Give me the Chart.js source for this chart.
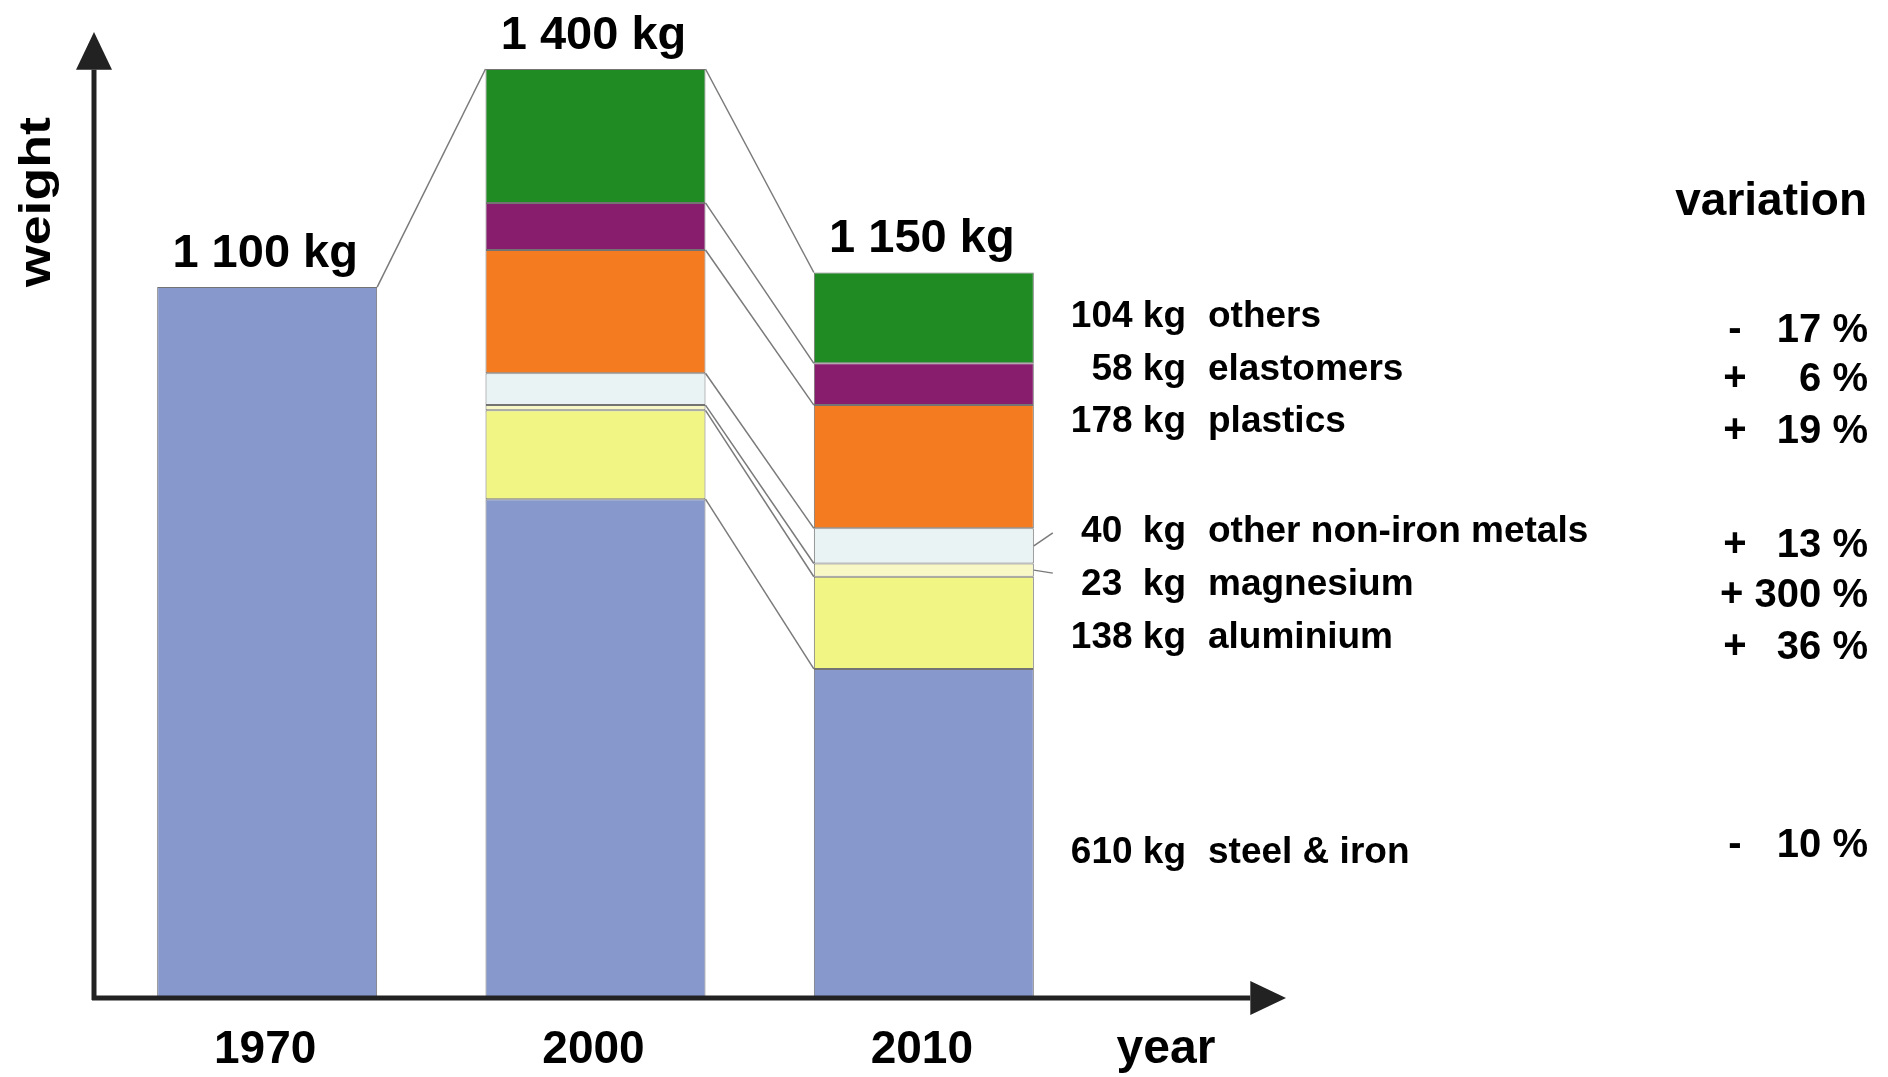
<!DOCTYPE html>
<html>
<head>
<meta charset="utf-8">
<script src="https://cdn.jsdelivr.net/npm/chart.js@4.4.1/dist/chart.umd.min.js"></script>
<style>
  html, body { margin: 0; padding: 0; background: #fff; }
  #wrap { width: 1888px; height: 1077px; }
</style>
</head>
<body>
<div id="wrap"><canvas id="myChart" width="1888" height="1077"></canvas></div>
<script>
// data (bar heights in kg, 2000 bar = 1400 kg)
const years = ['1970', '2000', '2010'];
const totalLabels = ['1 100 kg', '1 400 kg', '1 150 kg'];

const total1970 = [1071, null, null];
const steel = [null, 751, 495];
const aluminium = [null, 134, 139];
const magnesium = [null, 8, 20];
const nonIron = [null, 48, 53];
const plastics = [null, 186, 186];
const elastomers = [null, 71, 63];
const others = [null, 202, 137];

// right hand side texts, top to bottom
const materialNames = ['others', 'elastomers', 'plastics', 'other non-iron metals', 'magnesium', 'aluminium', 'steel & iron'];
const amounts2010 = ['104 kg', '58 kg', '178 kg', '40  kg', '23  kg', '138 kg', '610 kg'];
const variationSigns = ['-', '+', '+', '+', '+', '+', '-'];
const variationValues = ['17 %', '6 %', '19 %', '13 %', '300 %', '36 %', '10 %'];

const FONT = '"Liberation Sans", Arial, Helvetica, sans-serif';
const BLUE = '#8798cc';
const EDGE = 'rgba(90,90,90,0.85)';

function ds(label, data, color) {
    return {
        label: label,
        data: data,
        backgroundColor: color,
        borderColor: EDGE,
        borderWidth: 1,
        borderSkipped: false,
        stack: 'w'
    };
}

const datasets = [
    ds('1970', total1970, BLUE),
    ds('steel & iron', steel, BLUE),
    ds('aluminium', aluminium, '#f1f584'),
    ds('magnesium', magnesium, '#f7f8c6'),
    ds('other non-iron metals', nonIron, '#e9f3f3'),
    ds('plastics', plastics, '#f47b20'),
    ds('elastomers', elastomers, '#871d6c'),
    ds('others', others, '#208b23')
];

function arrowLine(ctx, x1, y1, x2, y2, head) {
    const ang = Math.atan2(y2 - y1, x2 - x1);
    const bx = x2 - Math.cos(ang) * head * 1.05;
    const by = y2 - Math.sin(ang) * head * 1.05;
    ctx.beginPath();
    ctx.moveTo(x1, y1);
    ctx.lineTo(bx, by);
    ctx.stroke();
    ctx.beginPath();
    ctx.moveTo(x2, y2);
    ctx.lineTo(bx + Math.sin(ang) * head / 2, by - Math.cos(ang) * head / 2);
    ctx.lineTo(bx - Math.sin(ang) * head / 2, by + Math.cos(ang) * head / 2);
    ctx.closePath();
    ctx.fill();
}

const overlay = {
    id: 'overlay',
    afterDatasetsDraw(chart) {
        const ctx = chart.ctx;
        const area = chart.chartArea;
        const yScale = chart.scales.y;
        const xScale = chart.scales.x;
        ctx.save();

        // connector lines between the bars
        ctx.strokeStyle = '#7a7a7a';
        ctx.lineWidth = 1.5;
        const first = chart.getDatasetMeta(0).data[0];
        const topMeta = chart.getDatasetMeta(datasets.length - 1).data[1];
        ctx.beginPath();
        ctx.moveTo(first.x + first.width / 2, first.y);
        ctx.lineTo(topMeta.x - topMeta.width / 2, topMeta.y);
        ctx.stroke();
        for (let i = 1; i < datasets.length; i++) {
            const a = chart.getDatasetMeta(i).data[1];
            const b = chart.getDatasetMeta(i).data[2];
            ctx.beginPath();
            ctx.moveTo(a.x + a.width / 2, a.y);
            ctx.lineTo(b.x - b.width / 2, b.y);
            ctx.stroke();
        }

        // little pointers for the two thin layers
        const ni = chart.getDatasetMeta(4).data[2];
        const mg = chart.getDatasetMeta(3).data[2];
        [[ni, -13], [mg, 3]].forEach(p => {
            const bar = p[0];
            const mid = (bar.y + bar.base) / 2;
            ctx.beginPath();
            ctx.moveTo(bar.x + bar.width / 2, mid);
            ctx.lineTo(bar.x + bar.width / 2 + 19, mid + p[1]);
            ctx.stroke();
        });

        // axes with arrows
        ctx.strokeStyle = '#222';
        ctx.fillStyle = '#222';
        ctx.lineWidth = 5;
        const ox = area.left - 9;
        const oy = area.bottom + 1;
        arrowLine(ctx, ox, oy + 2, ox, 32, 36);
        arrowLine(ctx, ox - 2, oy, 1286, oy, 34);

        // totals above the bars
        ctx.fillStyle = '#000';
        ctx.textAlign = 'center';
        ctx.textBaseline = 'alphabetic';
        ctx.font = 'bold 47px ' + FONT;
        years.forEach((y, j) => {
            let sum = 0;
            datasets.forEach(d => { sum += d.data[j] || 0; });
            const px = xScale.getPixelForValue(j);
            const py = yScale.getPixelForValue(sum);
            ctx.fillText(totalLabels[j], px - 2, py - 20);
        });

        // year labels
        ctx.font = 'bold 46px ' + FONT;
        years.forEach((y, j) => {
            ctx.fillText(y, xScale.getPixelForValue(j) - 2, 1063);
        });
        ctx.font = 'bold 48px ' + FONT;
        ctx.fillText('year', 1166, 1063);

        // axis title
        ctx.save();
        ctx.translate(38, 202);
        ctx.rotate(-Math.PI / 2);
        ctx.scale(1.22, 1);
        ctx.font = 'bold 44px ' + FONT;
        ctx.textBaseline = 'middle';
        ctx.fillText('weight', 0, 0);
        ctx.restore();

        // legend on the right
        const rowY = [317, 370, 422, 532, 585, 638, 853];
        const pctY = [331, 380, 432, 546, 596, 648, 846];
        ctx.textBaseline = 'middle';
        ctx.font = 'bold 37px ' + FONT;
        materialNames.forEach((name, i) => {
            ctx.textAlign = 'right';
            ctx.fillText(amounts2010[i], 1186, rowY[i]);
            ctx.textAlign = 'left';
            ctx.fillText(name, 1208, rowY[i]);
        });

        ctx.font = 'bold 40px ' + FONT;
        variationValues.forEach((v, i) => {
            ctx.textAlign = 'right';
            ctx.fillText(v, 1868, pctY[i]);
            const left = 1868 - ctx.measureText(v).width;
            ctx.textAlign = 'center';
            const sx = Math.min(1735, left - 23);
            ctx.fillText(variationSigns[i], sx, pctY[i] - 1);
        });

        ctx.textAlign = 'right';
        ctx.textBaseline = 'alphabetic';
        ctx.font = 'bold 46px ' + FONT;
        ctx.fillText('variation', 1867, 215);

        ctx.restore();
    }
};

new Chart(document.getElementById('myChart').getContext('2d'), {
    type: 'bar',
    data: { labels: years, datasets: datasets },
    options: {
        responsive: false,
        maintainAspectRatio: false,
        animation: false,
        layout: { padding: { top: 69, bottom: 80, left: 103, right: 800 } },
        datasets: { bar: { categoryPercentage: 1, barPercentage: 0.67 } },
        plugins: { legend: { display: false }, tooltip: { enabled: false } },
        scales: {
            x: { display: false, stacked: true },
            y: { display: false, stacked: true, min: 0, max: 1400 }
        }
    },
    plugins: [overlay]
});
</script>
</body>
</html>
